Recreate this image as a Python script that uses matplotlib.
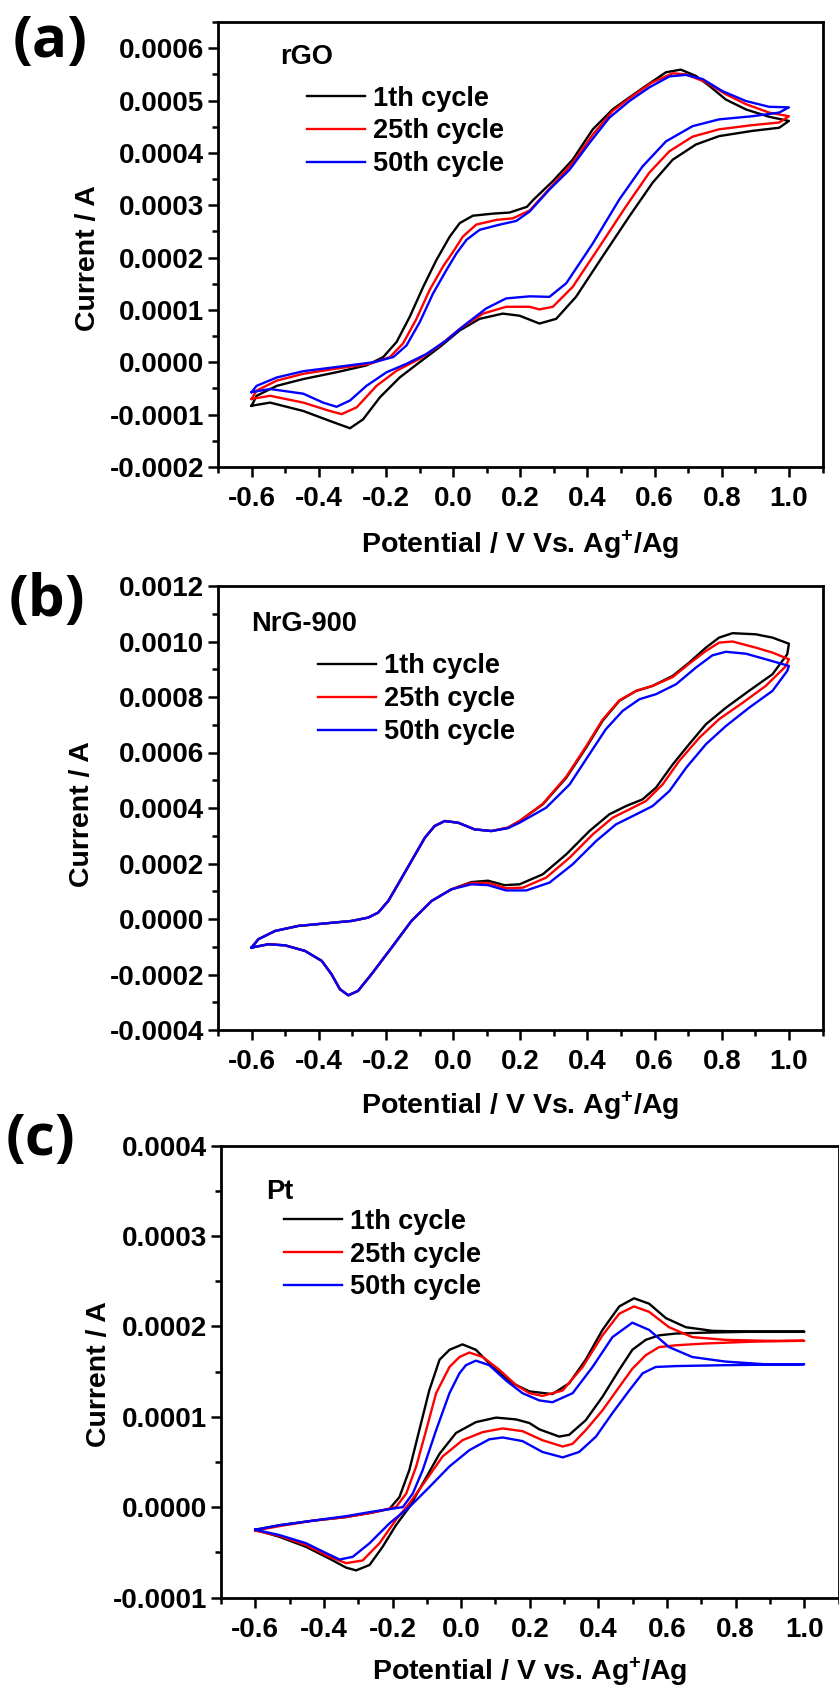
import numpy as np
import matplotlib
matplotlib.use("Agg")
import matplotlib.pyplot as plt
from matplotlib.ticker import MultipleLocator, FormatStrFormatter

plt.rcParams['font.family'] = ['Liberation Sans', 'DejaVu Sans']
plt.rcParams['font.weight'] = 'bold'
plt.rcParams['axes.unicode_minus'] = False
plt.rcParams['mathtext.fontset'] = 'custom'
plt.rcParams['mathtext.rm'] = 'Liberation Sans:bold'
plt.rcParams['mathtext.bf'] = 'Liberation Sans:bold'
plt.rcParams['mathtext.it'] = 'Liberation Sans:bold'

CYCLES = ["1th cycle", "25th cycle", "50th cycle"]
COLORS = ["#000000", "#ff0000", "#0000ff"]

# currents below are in units of 1e-4 A, potentials in V
# ---- (a) rGO ----
A1_UP_X = [-0.60, -0.585, -0.525, -0.446, -0.347, -0.258, -0.208, -0.168, -0.129, -0.089, -0.05, -0.01, 0.02, 0.059, 0.119, 0.168, 0.22, 0.24, 0.297, 0.356, 0.416, 0.475, 0.525, 0.574, 0.634, 0.678, 0.723, 0.763, 0.812, 0.872, 0.941, 1.0]
A1_UP_Y = [-0.83, -0.64, -0.45, -0.32, -0.19, -0.06, 0.10, 0.39, 0.87, 1.44, 1.95, 2.40, 2.66, 2.80, 2.84, 2.86, 2.97, 3.11, 3.46, 3.87, 4.45, 4.83, 5.06, 5.28, 5.54, 5.59, 5.47, 5.28, 5.02, 4.83, 4.69, 4.61]
A1_LO_X = [-0.60, -0.545, -0.446, -0.367, -0.307, -0.268, -0.218, -0.159, -0.10, -0.04, 0.02, 0.079, 0.148, 0.198, 0.257, 0.307, 0.366, 0.445, 0.525, 0.594, 0.654, 0.723, 0.792, 0.891, 0.971, 1.0]
A1_LO_Y = [-0.83, -0.77, -0.93, -1.12, -1.26, -1.09, -0.67, -0.29, 0.0, 0.29, 0.61, 0.83, 0.93, 0.89, 0.74, 0.83, 1.25, 2.02, 2.79, 3.43, 3.87, 4.16, 4.32, 4.42, 4.48, 4.61]

A25_UP_X = [-0.60, -0.585, -0.525, -0.446, -0.347, -0.248, -0.188, -0.149, -0.109, -0.07, -0.03, 0.0, 0.029, 0.069, 0.129, 0.178, 0.228, 0.297, 0.356, 0.416, 0.475, 0.535, 0.594, 0.654, 0.693, 0.753, 0.812, 0.872, 0.941, 1.0]
A25_UP_Y = [-0.70, -0.54, -0.35, -0.22, -0.12, -0.03, 0.10, 0.36, 0.83, 1.38, 1.83, 2.11, 2.40, 2.63, 2.72, 2.75, 2.90, 3.39, 3.81, 4.35, 4.80, 5.09, 5.35, 5.52, 5.50, 5.35, 5.12, 4.93, 4.77, 4.70]
A25_LO_X = [-0.60, -0.545, -0.446, -0.367, -0.332, -0.287, -0.228, -0.168, -0.099, -0.04, 0.02, 0.089, 0.158, 0.228, 0.257, 0.297, 0.356, 0.436, 0.515, 0.584, 0.644, 0.713, 0.792, 0.891, 0.971, 1.0]
A25_LO_Y = [-0.70, -0.64, -0.77, -0.93, -0.99, -0.86, -0.45, -0.16, 0.07, 0.32, 0.64, 0.93, 1.06, 1.06, 1.01, 1.06, 1.44, 2.21, 2.98, 3.62, 4.03, 4.31, 4.45, 4.53, 4.58, 4.70]

A50_UP_X = [-0.60, -0.585, -0.525, -0.446, -0.347, -0.238, -0.178, -0.139, -0.099, -0.06, -0.02, 0.01, 0.04, 0.079, 0.139, 0.188, 0.228, 0.287, 0.347, 0.406, 0.465, 0.525, 0.584, 0.644, 0.693, 0.743, 0.802, 0.872, 0.941, 1.0]
A50_UP_Y = [-0.57, -0.45, -0.29, -0.17, -0.09, 0.0, 0.10, 0.32, 0.77, 1.31, 1.76, 2.08, 2.34, 2.53, 2.63, 2.70, 2.88, 3.30, 3.68, 4.19, 4.67, 4.99, 5.25, 5.46, 5.49, 5.41, 5.18, 4.99, 4.88, 4.87]
A50_LO_X = [-0.60, -0.545, -0.446, -0.387, -0.347, -0.307, -0.258, -0.198, -0.139, -0.079, -0.02, 0.04, 0.099, 0.158, 0.228, 0.287, 0.337, 0.416, 0.495, 0.564, 0.634, 0.713, 0.792, 0.891, 0.971, 1.0]
A50_LO_Y = [-0.57, -0.51, -0.60, -0.77, -0.85, -0.73, -0.45, -0.19, -0.03, 0.16, 0.42, 0.74, 1.03, 1.22, 1.26, 1.25, 1.51, 2.27, 3.11, 3.74, 4.22, 4.51, 4.64, 4.70, 4.77, 4.87]

# ---- (b) NrG-900 ----  (left part is common to all cycles)
B_UP_LEFT_X = [-0.60, -0.58, -0.53, -0.461, -0.382, -0.302, -0.253, -0.223, -0.193, -0.164, -0.124, -0.084, -0.055, -0.025, 0.015, 0.064, 0.114]
B_UP_LEFT_Y = [-1.03, -0.73, -0.43, -0.25, -0.16, -0.07, 0.05, 0.23, 0.65, 1.25, 2.09, 2.93, 3.35, 3.53, 3.47, 3.23, 3.17]
B_LO_LEFT_X = [-0.60, -0.55, -0.50, -0.441, -0.391, -0.362, -0.337, -0.312, -0.283, -0.243, -0.183, -0.124, -0.064, -0.005]
B_LO_LEFT_Y = [-1.03, -0.91, -0.95, -1.15, -1.51, -1.99, -2.53, -2.75, -2.59, -1.99, -1.03, -0.07, 0.65, 1.07]

B1_UP_X = [0.163, 0.198, 0.267, 0.337, 0.396, 0.445, 0.495, 0.545, 0.594, 0.654, 0.703, 0.753, 0.792, 0.832, 0.901, 0.951, 1.0]
B1_UP_Y = [3.29, 3.53, 4.13, 5.09, 6.17, 7.14, 7.86, 8.22, 8.40, 8.76, 9.24, 9.78, 10.14, 10.30, 10.26, 10.14, 9.92]
B1_LO_X = [0.054, 0.104, 0.153, 0.198, 0.267, 0.337, 0.406, 0.465, 0.515, 0.564, 0.604, 0.654, 0.703, 0.753, 0.812, 0.881, 0.951, 0.995, 1.0]
B1_LO_Y = [1.33, 1.38, 1.22, 1.25, 1.61, 2.33, 3.17, 3.77, 4.07, 4.31, 4.73, 5.57, 6.30, 7.02, 7.61, 8.22, 8.82, 9.54, 9.92]

B25_UP_X = [0.163, 0.198, 0.267, 0.337, 0.396, 0.445, 0.495, 0.545, 0.594, 0.654, 0.703, 0.753, 0.792, 0.832, 0.901, 0.951, 1.0]
B25_UP_Y = [3.29, 3.53, 4.15, 5.13, 6.22, 7.18, 7.88, 8.22, 8.40, 8.72, 9.20, 9.66, 9.96, 10.0, 9.78, 9.60, 9.36]
B25_LO_X = [0.054, 0.104, 0.158, 0.208, 0.277, 0.347, 0.416, 0.475, 0.525, 0.574, 0.624, 0.673, 0.733, 0.792, 0.862, 0.931, 0.99, 1.0]
B25_LO_Y = [1.30, 1.30, 1.11, 1.13, 1.49, 2.21, 3.05, 3.65, 3.95, 4.25, 4.85, 5.69, 6.53, 7.20, 7.79, 8.40, 9.10, 9.36]

B50_UP_X = [0.163, 0.198, 0.277, 0.347, 0.406, 0.455, 0.505, 0.555, 0.604, 0.664, 0.723, 0.772, 0.812, 0.872, 0.931, 1.0]
B50_UP_Y = [3.27, 3.47, 4.01, 4.85, 5.94, 6.84, 7.50, 7.92, 8.10, 8.46, 9.06, 9.50, 9.63, 9.56, 9.36, 9.12]
B50_LO_X = [0.054, 0.104, 0.158, 0.218, 0.287, 0.356, 0.426, 0.485, 0.545, 0.594, 0.644, 0.694, 0.753, 0.812, 0.881, 0.951, 0.995, 1.0]
B50_LO_Y = [1.25, 1.22, 1.03, 1.03, 1.31, 1.97, 2.81, 3.41, 3.77, 4.07, 4.61, 5.45, 6.30, 6.95, 7.61, 8.22, 8.94, 9.12]

# ---- (c) Pt ----
C1_UP_X = [-0.60, -0.529, -0.432, -0.335, -0.258, -0.209, -0.18, -0.151, -0.122, -0.093, -0.063, -0.034, 0.004, 0.043, 0.092, 0.15, 0.199, 0.266, 0.315, 0.363, 0.412, 0.461, 0.504, 0.548, 0.597, 0.655, 0.732, 0.849, 1.0]
C1_UP_Y = [-0.25, -0.20, -0.15, -0.11, -0.06, -0.02, 0.11, 0.41, 0.85, 1.29, 1.63, 1.74, 1.80, 1.74, 1.55, 1.37, 1.28, 1.25, 1.37, 1.63, 1.96, 2.22, 2.31, 2.25, 2.09, 1.99, 1.95, 1.94, 1.94]
C1_LO_X = [-0.60, -0.529, -0.452, -0.384, -0.335, -0.306, -0.267, -0.229, -0.19, -0.151, -0.112, -0.063, -0.015, 0.043, 0.102, 0.16, 0.199, 0.228, 0.286, 0.315, 0.363, 0.412, 0.461, 0.499, 0.538, 0.577, 0.626, 0.713, 0.849, 1.0]
C1_LO_Y = [-0.25, -0.33, -0.44, -0.57, -0.67, -0.70, -0.64, -0.44, -0.20, 0.0, 0.26, 0.59, 0.82, 0.94, 0.99, 0.97, 0.93, 0.86, 0.78, 0.80, 0.96, 1.22, 1.52, 1.74, 1.85, 1.90, 1.92, 1.93, 1.94, 1.94]

C25_UP_X = [-0.60, -0.529, -0.432, -0.335, -0.258, -0.19, -0.16, -0.131, -0.102, -0.073, -0.034, -0.005, 0.024, 0.063, 0.111, 0.16, 0.199, 0.237, 0.296, 0.354, 0.412, 0.461, 0.504, 0.548, 0.606, 0.674, 0.771, 0.888, 1.0]
C25_UP_Y = [-0.26, -0.21, -0.15, -0.11, -0.06, 0.0, 0.15, 0.45, 0.85, 1.26, 1.55, 1.66, 1.71, 1.66, 1.52, 1.35, 1.26, 1.23, 1.29, 1.55, 1.90, 2.14, 2.22, 2.16, 1.99, 1.88, 1.85, 1.84, 1.84]
C25_LO_X = [-0.60, -0.529, -0.452, -0.384, -0.335, -0.287, -0.238, -0.19, -0.151, -0.102, -0.054, 0.004, 0.063, 0.121, 0.179, 0.237, 0.296, 0.325, 0.363, 0.412, 0.461, 0.499, 0.538, 0.577, 0.626, 0.713, 0.85, 1.0]
C25_LO_Y = [-0.26, -0.32, -0.42, -0.55, -0.62, -0.59, -0.40, -0.14, 0.04, 0.30, 0.56, 0.74, 0.83, 0.87, 0.84, 0.74, 0.67, 0.70, 0.85, 1.07, 1.33, 1.53, 1.68, 1.77, 1.79, 1.81, 1.83, 1.84]

C50_UP_X = [-0.60, -0.529, -0.432, -0.335, -0.258, -0.17, -0.141, -0.112, -0.073, -0.034, -0.005, 0.014, 0.043, 0.082, 0.131, 0.179, 0.228, 0.266, 0.325, 0.383, 0.441, 0.499, 0.548, 0.606, 0.674, 0.77, 0.886, 1.0]
C50_UP_Y = [-0.25, -0.20, -0.15, -0.10, -0.05, 0.0, 0.15, 0.41, 0.85, 1.26, 1.48, 1.57, 1.62, 1.57, 1.40, 1.26, 1.18, 1.16, 1.26, 1.55, 1.88, 2.04, 1.96, 1.77, 1.66, 1.61, 1.58, 1.58]
C50_LO_X = [-0.60, -0.529, -0.452, -0.393, -0.354, -0.316, -0.267, -0.209, -0.151, -0.093, -0.034, 0.024, 0.082, 0.121, 0.179, 0.237, 0.296, 0.344, 0.393, 0.441, 0.49, 0.529, 0.567, 0.626, 0.77, 1.0]
C50_LO_Y = [-0.25, -0.31, -0.40, -0.51, -0.58, -0.55, -0.40, -0.18, 0.0, 0.22, 0.45, 0.63, 0.75, 0.77, 0.73, 0.61, 0.55, 0.61, 0.78, 1.04, 1.29, 1.48, 1.55, 1.56, 1.57, 1.58]


def loop(up_x, up_y, lo_x, lo_y):
    # forward scan on the upper branch, then back along the lower one
    x = np.concatenate([up_x, lo_x[::-1]])
    y = np.concatenate([up_y, lo_y[::-1]]) * 1e-4
    return x, y


panel_a = [loop(A1_UP_X, A1_UP_Y, A1_LO_X, A1_LO_Y),
           loop(A25_UP_X, A25_UP_Y, A25_LO_X, A25_LO_Y),
           loop(A50_UP_X, A50_UP_Y, A50_LO_X, A50_LO_Y)]
panel_b = [loop(B_UP_LEFT_X + B1_UP_X, B_UP_LEFT_Y + B1_UP_Y, B_LO_LEFT_X + B1_LO_X, B_LO_LEFT_Y + B1_LO_Y),
           loop(B_UP_LEFT_X + B25_UP_X, B_UP_LEFT_Y + B25_UP_Y, B_LO_LEFT_X + B25_LO_X, B_LO_LEFT_Y + B25_LO_Y),
           loop(B_UP_LEFT_X + B50_UP_X, B_UP_LEFT_Y + B50_UP_Y, B_LO_LEFT_X + B50_LO_X, B_LO_LEFT_Y + B50_LO_Y)]
panel_c = [loop(C1_UP_X, C1_UP_Y, C1_LO_X, C1_LO_Y),
           loop(C25_UP_X, C25_UP_Y, C25_LO_X, C25_LO_Y),
           loop(C50_UP_X, C50_UP_Y, C50_LO_X, C50_LO_Y)]

W, H = 839, 1688
fig = plt.figure(figsize=(W / 100, H / 100), dpi=100)


def px_axes(left, right, top, bottom):
    return fig.add_axes([left / W, 1 - bottom / H, (right - left) / W, (bottom - top) / H])


panels = [
    dict(ax=px_axes(218, 822.5, 22, 467), curves=panel_a, ylim=(-0.0002, 0.00065), ymaj=0.0001,
         name="rGO", name_xy=(0.103, 0.921), leg_xy=(0.147, 0.857), letter="(a)", letter_xy=(50, 42),
         xlabel="Potential / V Vs. Ag$^{+}$/Ag", ylab_xy=(-0.215, 0.47), xlab_y=-0.175),
    dict(ax=px_axes(218, 822.5, 586, 1030), curves=panel_b, ylim=(-0.0004, 0.0012), ymaj=0.0002,
         name="NrG-900", name_xy=(0.055, 0.914), leg_xy=(0.165, 0.848), letter="(b)", letter_xy=(47, 601),
         xlabel="Potential / V Vs. Ag$^{+}$/Ag", ylab_xy=(-0.225, 0.487), xlab_y=-0.171),
    dict(ax=px_axes(221, 838.5, 1145.5, 1597.5), curves=panel_c, ylim=(-0.0001, 0.0004), ymaj=0.0001,
         name="Pt", name_xy=(0.073, 0.897), leg_xy=(0.102, 0.86), letter="(c)", letter_xy=(40, 1140),
         xlabel="Potential / V vs. Ag$^{+}$/Ag", ylab_xy=(-0.197, 0.495), xlab_y=-0.166),
]

for p in panels:
    ax = p["ax"]
    for (x, y), lab, col in zip(p["curves"], CYCLES, COLORS):
        ax.plot(x, y, color=col, lw=1.7, label=lab, solid_joinstyle='round')

    ax.set_xlim(-0.7, 1.1)
    ax.set_ylim(*p["ylim"])
    ax.xaxis.set_major_locator(MultipleLocator(0.2))
    ax.xaxis.set_minor_locator(MultipleLocator(0.1))
    ax.yaxis.set_major_locator(MultipleLocator(p["ymaj"]))
    ax.yaxis.set_minor_locator(MultipleLocator(p["ymaj"] / 2))
    ax.xaxis.set_major_formatter(FormatStrFormatter('%.1f'))
    ax.yaxis.set_major_formatter(FormatStrFormatter('%.4f'))
    ax.tick_params(which='both', direction='out', top=False, right=False, width=1.8)
    ax.tick_params(which='major', length=7)
    ax.tick_params(which='minor', length=4)
    ax.tick_params(axis='x', which='major', pad=7, labelsize=20)
    ax.tick_params(axis='y', which='major', pad=3, labelsize=20)
    for s in ax.spines.values():
        s.set_linewidth(2.0)

    ax.set_ylabel("Current / A", fontsize=20.5, fontweight='bold', va='center')
    ax.yaxis.set_label_coords(*p["ylab_xy"])
    ax.set_xlabel(p["xlabel"], fontsize=20.5, fontweight='bold', va='center')
    ax.xaxis.set_label_coords(0.5, p["xlab_y"])

    ax.text(p["name_xy"][0], p["name_xy"][1], p["name"], transform=ax.transAxes,
            fontsize=19.5, fontweight='bold', ha='left', va='center')
    ax.legend(loc='upper left', bbox_to_anchor=p["leg_xy"], frameon=False, fontsize=19.5,
              handlelength=2.15, handletextpad=0.3, labelspacing=0.25, borderpad=0, borderaxespad=0)

    fig.text(p["letter_xy"][0] / W, 1 - p["letter_xy"][1] / H, p["letter"],
             fontsize=42, fontweight='bold', family=['Open Sans', 'DejaVu Sans'], ha='center', va='center')

fig.savefig("out.png", dpi=100)
